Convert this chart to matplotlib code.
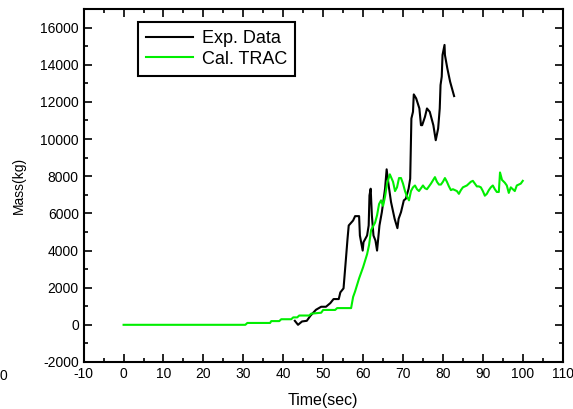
import matplotlib
matplotlib.use("Agg")
import matplotlib.pyplot as plt
from matplotlib.ticker import MultipleLocator

plt.rcParams['font.family'] = ['Liberation Sans', 'DejaVu Sans']
plt.rcParams['axes.unicode_minus'] = False

exp_time = [42.9, 43.7, 44.7, 45.9, 46.8, 48.2, 49.5, 50.7, 51.8, 52.6, 53.9, 54.3, 55.1,
            55.7, 56.1, 56.4, 57.5, 58.0, 59.0, 59.2, 59.9, 60.1, 61.0, 61.4, 61.6, 61.9,
            62.2, 62.6, 63.1, 63.5, 64.1, 64.7, 65.5, 65.9, 66.4, 67.0, 67.9, 68.6, 68.9,
            69.5, 70.2, 70.7, 71.4, 71.8, 72.1, 72.5, 72.7, 73.3, 74.1, 74.5, 74.8, 75.5,
            76.0, 76.7, 77.6, 78.2, 78.8, 79.2, 79.4, 79.7, 79.9, 80.4, 80.5, 81.1, 81.8, 82.8]
exp_mass = [216, 0, 180, 216, 486, 810, 972, 972, 1170, 1386, 1386, 1746, 1962,
            3546, 4626, 5346, 5616, 5850, 5850, 4806, 3996, 4446, 4806, 5346, 6966, 7326,
            5886, 4806, 4536, 3996, 5346, 6066, 7326, 8370, 7506, 6606, 5706, 5202, 5706,
            6066, 6696, 6786, 7326, 7866, 11106, 11466, 12402, 12186, 11646, 10746, 10746, 11196,
            11646, 11466, 10746, 9936, 10566, 11646, 12906, 13356, 14526, 15066, 14526, 13806, 13086, 12312]

cal_time = [0, 30.5, 31, 36.7, 37, 39, 39.5, 42, 42.5, 43.5, 44, 46.5, 47, 49.5, 50, 53, 53.5,
            57, 57.5, 58, 59, 60, 61, 61.5, 62, 63, 63.5, 64, 64.5, 65, 65.5, 66, 66.7, 67.5,
            68, 68.5, 69, 69.5, 70, 70.5, 71, 71.5, 72, 72.5, 73, 73.5, 74, 74.5, 75, 75.5,
            76, 76.5, 77, 78, 78.5, 79, 79.5, 80, 80.5, 81, 81.5, 82, 82.5, 83, 83.5, 84,
            84.5, 85, 86, 86.5, 87, 87.5, 88, 88.5, 89, 89.5, 90, 90.5, 91, 91.5, 92, 92.5,
            93, 93.5, 94, 94.3, 94.8, 95.5, 96, 96.5, 97, 97.5, 98, 98.5, 99, 99.5, 100]
cal_mass = [0, 0, 100, 100, 200, 200, 300, 300, 400, 400, 500, 500, 600, 650, 800, 800, 900,
            900, 1500, 1800, 2500, 3100, 3800, 4300, 5100, 5500, 5900, 6500, 6700, 6400, 6900, 7600, 8100, 7700,
            7200, 7400, 7900, 7900, 7600, 7200, 6900, 6700, 7200, 7400, 7500, 7300, 7200, 7350, 7500, 7350,
            7300, 7450, 7600, 7950, 7700, 7550, 7550, 7700, 7900, 7700, 7450, 7250, 7300, 7250, 7200, 7050,
            7250, 7400, 7500, 7600, 7700, 7750, 7600, 7450, 7450, 7400, 7200, 6950, 7050, 7250, 7400, 7500,
            7300, 7150, 7150, 8200, 7800, 7650, 7500, 7100, 7400, 7300, 7200, 7500, 7550, 7600, 7750]

fig = plt.figure(figsize=(5.73, 4.09), dpi=100)
ax = fig.add_axes([0.146, 0.115, 0.836, 0.863])

ax.plot(exp_time, exp_mass, color='black', lw=1.5, label='Exp. Data')
ax.plot(cal_time, cal_mass, color='#00ee00', lw=1.5, label='Cal. TRAC')

ax.set_xlim(-10, 110)
ax.set_ylim(-2000, 17000)
ax.xaxis.set_major_locator(MultipleLocator(10))
ax.xaxis.set_minor_locator(MultipleLocator(5))
ax.yaxis.set_major_locator(MultipleLocator(2000))
ax.yaxis.set_minor_locator(MultipleLocator(1000))
ax.tick_params(which='both', direction='in', top=True, right=True, width=1.2, labelsize=10)
ax.tick_params(which='major', length=6)
ax.tick_params(which='minor', length=3)
for s in ax.spines.values():
    s.set_linewidth(1.5)

ax.set_xlabel('Time(sec)', fontsize=11.5, labelpad=9)
ax.set_ylabel('Mass(kg)', fontsize=10, labelpad=10)

leg = ax.legend(loc='upper left', bbox_to_anchor=(0.113, 0.963), borderaxespad=0,
                fontsize=13, handlelength=2.6, fancybox=False, edgecolor='black',
                framealpha=1, borderpad=0.45, labelspacing=0.2, handletextpad=0.5)
leg.get_frame().set_linewidth(1.5)

fig.text(0.0, 0.081, '0', ha='left', va='center', fontsize=10)

fig.savefig('out.png', dpi=100)
